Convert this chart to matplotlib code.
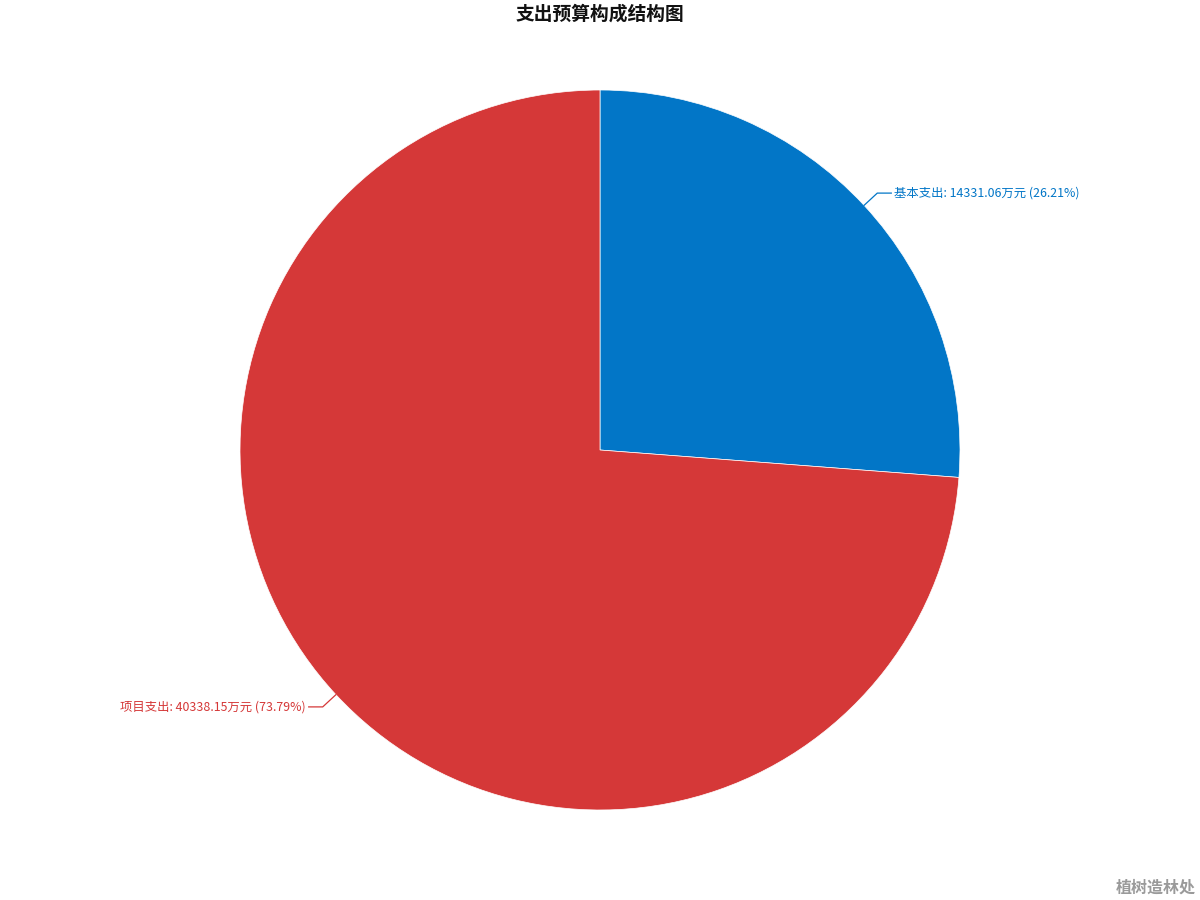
import numpy as np
import matplotlib
matplotlib.use('Agg')
import matplotlib.pyplot as plt

plt.rcParams['font.family'] = ['Noto Sans CJK SC', 'DejaVu Sans']

# budget composition (万元)
categories = ['基本支出', '项目支出']
values = [14331.06, 40338.15]
percents = ['26.21%', '73.79%']
colors = ['#0276C7', '#D53838']

fig = plt.figure(figsize=(12, 9), dpi=100)
ax = fig.add_axes([0, 0, 1, 1])

cx, cy, r = 600, 450, 360
wedges, _ = ax.pie(values, colors=colors, startangle=90, counterclock=False,
                   center=(cx, cy), radius=r, frame=True,
                   wedgeprops=dict(edgecolor='white', linewidth=0.5))
ax.set_xlim(0, 1200)
ax.set_ylim(0, 900)
ax.set_aspect('equal')
ax.axis('off')

# labels with leader lines
for w, name, val, pct, col in zip(wedges, categories, values, percents, colors):
    mid = np.deg2rad((w.theta1 + w.theta2) / 2)
    x0, y0 = cx + r * np.cos(mid), cy + r * np.sin(mid)
    x1, y1 = cx + (r + 18) * np.cos(mid), cy + (r + 18) * np.sin(mid)
    side = 1 if np.cos(mid) > 0 else -1
    x2 = x1 + side * 14
    ax.plot([x0, x1, x2], [y0, y1, y1], color=col, lw=0.9)
    ax.text(x2 + side * 3, y1, f'{name}: {val:.2f}万元 ({pct})', color=col,
            fontsize=8.9, ha='left' if side > 0 else 'right', va='center')

fig.text(0.5, 1 - 14 / 900, '支出预算构成结构图', ha='center', va='center',
         fontsize=13.5, fontweight='bold', color='#111111')
fig.text(1 - 4 / 1200, 1 - 888 / 900, '植树造林处', ha='right', va='center',
         fontsize=11.5, fontweight='bold', color='#9a9a9a')

fig.savefig('out.png', dpi=100)
